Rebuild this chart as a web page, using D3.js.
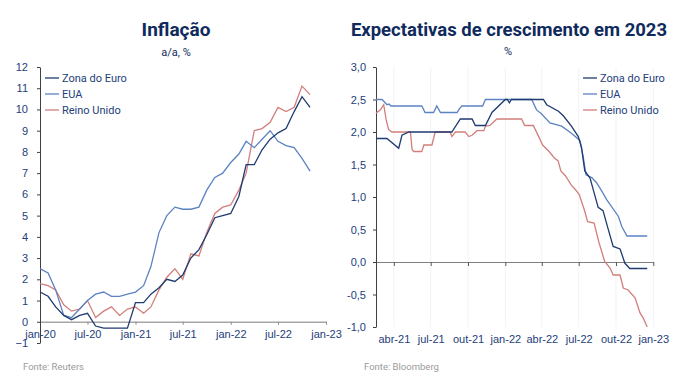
<!DOCTYPE html>
<html>
<head>
<meta charset="utf-8">
<script src="https://cdn.jsdelivr.net/npm/d3@7"></script>
<style>
  body { margin: 0; background: #fff; }
  svg { display: block; font-family: Roboto, "Open Sans", sans-serif; }
</style>
</head>
<body>
<svg id="chart" width="692" height="390"></svg>
<script>
// ---------- Inflação (a/a, %) : monthly, jan-20 .. nov-22
var inflMonths = d3.timeMonth.range(new Date(2020, 0, 1), new Date(2022, 11, 1))
var inflEuro = [1.4, 1.2, 0.7, 0.3, 0.1, 0.3, 0.4, -0.2, -0.3, -0.3, -0.3, -0.3,
                0.9, 0.9, 1.3, 1.6, 2.0, 1.9, 2.2, 3.0, 3.4, 4.1, 4.9, 5.0,
                5.1, 5.9, 7.4, 7.4, 8.1, 8.6, 8.9, 9.1, 9.9, 10.6, 10.1]
var inflEUA  = [2.5, 2.3, 1.5, 0.3, 0.2, 0.6, 1.0, 1.3, 1.4, 1.2, 1.2, 1.3,
                1.4, 1.7, 2.6, 4.2, 5.0, 5.4, 5.3, 5.3, 5.4, 6.2, 6.8, 7.0,
                7.5, 7.9, 8.5, 8.2, 8.6, 9.0, 8.5, 8.3, 8.2, 7.7, 7.1]
var inflUK   = [1.8, 1.7, 1.5, 0.8, 0.5, 0.6, 1.0, 0.2, 0.5, 0.7, 0.3, 0.6,
                0.7, 0.4, 0.7, 1.5, 2.1, 2.5, 2.0, 3.2, 3.1, 4.2, 5.1, 5.4,
                5.5, 6.2, 7.0, 9.0, 9.1, 9.4, 10.1, 9.9, 10.1, 11.1, 10.7]
var inflTicks = ["2020-01-01", "2020-07-01", "2021-01-01", "2021-07-01", "2022-01-01", "2022-07-01", "2023-01-01"]

// ---------- Expectativas de crescimento em 2023 (%)
var expEuro = [["2021-02-16", 1.9], ["2021-03-15", 1.9], ["2021-04-13", 1.75], ["2021-04-21", 1.95],
               ["2021-05-08", 2.0], ["2021-08-22", 2.0], ["2021-09-12", 2.2], ["2021-10-11", 2.2],
               ["2021-10-19", 2.1], ["2021-11-13", 2.1], ["2021-11-29", 2.3], ["2022-01-01", 2.5],
               ["2022-01-06", 2.5], ["2022-01-11", 2.45], ["2022-01-16", 2.5], ["2022-04-05", 2.5],
               ["2022-04-13", 2.42], ["2022-05-12", 2.32], ["2022-05-24", 2.25], ["2022-06-13", 2.09],
               ["2022-06-30", 1.93], ["2022-07-08", 1.76], ["2022-07-16", 1.4], ["2022-07-29", 1.29],
               ["2022-08-06", 1.11], ["2022-08-18", 0.84], ["2022-08-30", 0.79], ["2022-09-11", 0.52],
               ["2022-09-24", 0.24], ["2022-10-11", 0.2], ["2022-10-23", -0.02], ["2022-11-04", -0.1],
               ["2022-12-17", -0.1]]
var expEUA  = [["2021-02-16", 2.5], ["2021-03-03", 2.5], ["2021-03-15", 2.42], ["2021-03-20", 2.43],
               ["2021-03-25", 2.4], ["2021-06-09", 2.4], ["2021-06-17", 2.3], ["2021-07-08", 2.3],
               ["2021-07-16", 2.4], ["2021-07-25", 2.3], ["2021-09-04", 2.3], ["2021-09-10", 2.36],
               ["2021-09-16", 2.4], ["2021-11-06", 2.4], ["2021-11-13", 2.5], ["2022-03-07", 2.5],
               ["2022-03-19", 2.34], ["2022-03-31", 2.28], ["2022-04-21", 2.14], ["2022-05-20", 2.09],
               ["2022-06-13", 1.98], ["2022-07-04", 1.87], ["2022-07-12", 1.62], ["2022-07-19", 1.34],
               ["2022-08-02", 1.3], ["2022-08-14", 1.22], ["2022-08-27", 1.09], ["2022-09-08", 0.96],
               ["2022-10-07", 0.7], ["2022-10-15", 0.55], ["2022-10-28", 0.4], ["2022-12-17", 0.4]]
var expUK   = [["2021-02-16", 2.29], ["2021-02-27", 2.34], ["2021-03-07", 2.42], ["2021-03-13", 2.19],
               ["2021-03-19", 2.04], ["2021-03-27", 2.0], ["2021-05-12", 2.0], ["2021-05-16", 1.73],
               ["2021-05-20", 1.7], ["2021-06-09", 1.7], ["2021-06-14", 1.8], ["2021-07-04", 1.8],
               ["2021-07-12", 2.0], ["2021-08-18", 2.0], ["2021-08-22", 1.93], ["2021-08-31", 2.0],
               ["2021-09-24", 2.0], ["2021-10-03", 1.93], ["2021-10-11", 1.95], ["2021-10-23", 2.02],
               ["2021-11-09", 2.02], ["2021-11-13", 2.09], ["2021-11-24", 2.1], ["2021-12-11", 2.2],
               ["2022-02-10", 2.2], ["2022-02-18", 2.1], ["2022-03-11", 2.1], ["2022-03-22", 1.96],
               ["2022-04-03", 1.8], ["2022-04-19", 1.7], ["2022-05-02", 1.6], ["2022-05-11", 1.56],
               ["2022-05-18", 1.4], ["2022-05-30", 1.32], ["2022-06-12", 1.19], ["2022-06-22", 1.12],
               ["2022-07-02", 1.04], ["2022-07-15", 0.8], ["2022-07-23", 0.62], ["2022-08-08", 0.6],
               ["2022-08-20", 0.3], ["2022-09-03", 0.01], ["2022-09-16", -0.09], ["2022-09-24", -0.2],
               ["2022-10-11", -0.2], ["2022-10-19", -0.4], ["2022-10-31", -0.43], ["2022-11-17", -0.55],
               ["2022-11-29", -0.78], ["2022-12-07", -0.86], ["2022-12-17", -1.0]]
var expTicks = ["2021-04-01", "2021-07-01", "2021-10-01", "2022-01-01", "2022-04-01", "2022-07-01", "2022-10-01", "2023-01-01"]

var seriesNames = ["Zona do Euro", "EUA", "Reino Unido"]
var colors = ["#1f3a70", "#5b83c3", "#d27e7b"]

var parse = d3.timeParse("%Y-%m-%d")
var ptBr = ["jan", "fev", "mar", "abr", "mai", "jun", "jul", "ago", "set", "out", "nov", "dez"]
var fmtDate = d => ptBr[d.getMonth()] + "-" + String(d.getFullYear()).slice(2)

var svg = d3.select("#chart")
var navy = "#0f2a5c"
var tickColor = "#24407a"

// ===================== left chart =====================
var left = { x0: 40, x1: 326, top: 67, bottom: 343 }

var xL = d3.scaleTime()
           .domain([new Date(2020, 0, 1), new Date(2023, 0, 1)])
           .range([left.x0, left.x1])
var yL = d3.scaleLinear()
           .domain([-1, 12])
           .range([left.bottom, left.top])

svg.append("text")
   .attr("x", 176).attr("y", 36)
   .attr("text-anchor", "middle")
   .attr("fill", navy)
   .style("font-size", "19px").style("font-weight", "bold")
   .text("Inflação")
svg.append("text")
   .attr("x", 176).attr("y", 56)
   .attr("text-anchor", "middle")
   .attr("fill", navy)
   .style("font-size", "11px")
   .text("a/a, %")

// x axis sits on zero
var xAxisL = svg.append("g")
                .attr("transform", `translate(0,${yL(0)})`)
                .call(d3.axisBottom(xL).tickValues(inflTicks.map(parse)).tickFormat(fmtDate).tickSize(3).tickSizeOuter(0))
xAxisL.select(".domain").attr("stroke", "#a6a6a6").attr("stroke-width", 1.5)
xAxisL.selectAll(".tick line").attr("stroke", "#8c8c8c")
xAxisL.selectAll("text").attr("fill", tickColor).style("font-size", "11px").attr("dy", "0.95em")

var yAxisL = svg.append("g")
                .attr("transform", `translate(${left.x0},0)`)
                .call(d3.axisLeft(yL).ticks(13).tickSize(3).tickSizeOuter(0))
yAxisL.select(".domain").attr("stroke", "#404040")
yAxisL.selectAll(".tick line").attr("stroke", "#404040")
yAxisL.selectAll("text").attr("fill", tickColor).style("font-size", "11px").attr("x", -12)

var lineL = d3.line().x((d, i) => xL(inflMonths[i])).y(d => yL(d))
;[inflUK, inflEUA, inflEuro].forEach((s, k) => {
    svg.append("path")
       .datum(s)
       .attr("fill", "none")
       .attr("stroke", colors[2 - k])
       .attr("stroke-width", 1.3)
       .attr("d", lineL)
})

// ===================== right chart =====================
var right = { x0: 376, x1: 653.3, top: 67, bottom: 327 }

var xR = d3.scaleTime()
           .domain([new Date(2021, 1, 16), new Date(2023, 0, 1)])
           .range([right.x0, right.x1])
var yR = d3.scaleLinear()
           .domain([-1, 3])
           .range([right.bottom, right.top])

svg.append("text")
   .attr("x", 509).attr("y", 36)
   .attr("text-anchor", "middle")
   .attr("fill", navy)
   .style("font-size", "18.5px").style("font-weight", "bold")
   .text("Expectativas de crescimento em 2023")
svg.append("text")
   .attr("x", 508).attr("y", 55)
   .attr("text-anchor", "middle")
   .attr("fill", navy)
   .style("font-size", "11px")
   .text("%")

// faint vertical grid
svg.append("g")
   .selectAll("line")
   .data(expTicks.map(parse))
   .enter()
   .append("line")
   .attr("x1", d => xR(d)).attr("x2", d => xR(d))
   .attr("y1", right.top).attr("y2", right.bottom)
   .attr("stroke", "#f3f3f3")

var xAxisR = svg.append("g")
                .attr("transform", `translate(0,${yR(0)})`)
                .call(d3.axisBottom(xR).tickValues(expTicks.map(parse)).tickFormat(fmtDate).tickSize(4).tickSizeOuter(0))
xAxisR.select(".domain").attr("stroke", "#7f7f7f").attr("stroke-width", 1.2)
xAxisR.selectAll(".tick line").attr("stroke", "#595959")
xAxisR.selectAll("text").attr("fill", tickColor).style("font-size", "11px")
      .attr("y", yR(-1) - yR(0) + 8).attr("dy", "0.71em")

var yAxisR = svg.append("g")
                .attr("transform", `translate(${right.x0},0)`)
                .call(d3.axisLeft(yR).tickValues(d3.range(-1, 3.01, 0.5)).tickFormat(d => d3.format(".1f")(d).replace(".", ",").replace("−", "-")).tickSize(3).tickSizeOuter(0))
yAxisR.select(".domain").attr("stroke", "#404040")
yAxisR.selectAll(".tick line").attr("stroke", "#404040")
yAxisR.selectAll("text").attr("fill", tickColor).style("font-size", "11px").attr("x", -10)

var lineR = d3.line().x(d => xR(parse(d[0]))).y(d => yR(d[1]))
;[expUK, expEUA, expEuro].forEach((s, k) => {
    svg.append("path")
       .datum(s)
       .attr("fill", "none")
       .attr("stroke", colors[2 - k])
       .attr("stroke-width", 1.3)
       .attr("d", lineR)
})

// ===================== legends =====================
function legend(x, y) {
    var g = svg.append("g").attr("transform", `translate(${x},${y})`)
    seriesNames.forEach((name, i) => {
        g.append("line")
         .attr("x1", 0).attr("x2", 14)
         .attr("y1", i * 16).attr("y2", i * 16)
         .attr("stroke", colors[i]).attr("stroke-width", 1.3)
        g.append("text")
         .attr("x", 17).attr("y", i * 16)
         .attr("dy", "0.35em")
         .attr("fill", tickColor)
         .style("font-size", "11px")
         .text(name)
    })
}
legend(45, 78)
legend(583, 78)

// ===================== sources =====================
svg.append("text").attr("x", 23).attr("y", 370)
   .attr("fill", "#9a9a9a").style("font-size", "9.5px").text("Fonte: Reuters")
svg.append("text").attr("x", 364).attr("y", 370)
   .attr("fill", "#9a9a9a").style("font-size", "9.5px").text("Fonte: Bloomberg")
</script>
</body>
</html>
